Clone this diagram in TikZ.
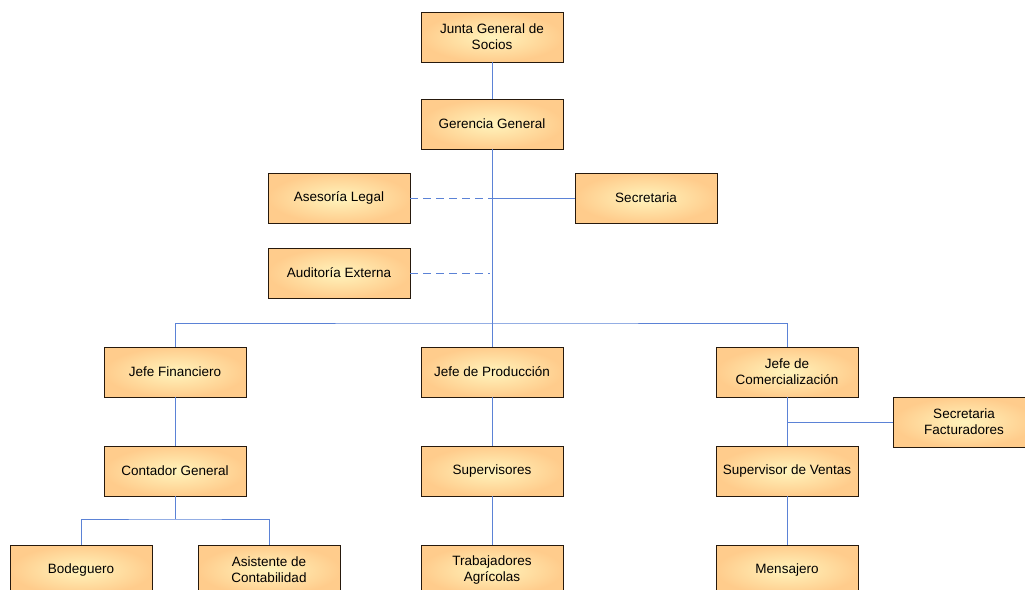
\documentclass[tikz,border=0pt]{standalone}
\usepackage{fontspec}
\setmainfont{Liberation Sans}
\begin{document}
\begin{tikzpicture}[x=1pt,y=-1pt,
  orgbox/.style={draw=black!80!brown, line width=0.9pt, minimum width=142pt, minimum height=50pt,
    inner sep=2pt, align=center, font=\fontsize{13.5}{16}\selectfont,
    shading=radial, inner color=boxin, outer color=boxout},
  link/.style={draw=linkblue, line width=1pt},
  dlink/.style={link, dash pattern=on 8pt off 5pt}]
\definecolor{boxin}{HTML}{FFF4BC}
\definecolor{boxout}{HTML}{FFCC8C}
\definecolor{linkblue}{HTML}{5B82D6}
\useasboundingbox (0,0) rectangle (1025,589);
\clip (0,0) rectangle (1025,589);
% nodes
\node[orgbox] (junta) at (492,37) {Junta General de\\Socios};
\node[orgbox] (ger) at (492,124) {Gerencia General};
\node[orgbox] (ase) at (339,198) {Asesoría Legal};
\node[orgbox] (sec) at (646,198) {Secretaria};
\node[orgbox] (aud) at (339,273) {Auditoría Externa};
\node[orgbox] (fin) at (175,372) {Jefe Financiero};
\node[orgbox] (prod) at (492,372) {Jefe de Producción};
\node[orgbox] (com) at (787,372) {Jefe de\\Comercialización};
\node[orgbox] (secf) at (964,422) {Secretaria\\Facturadores};
\node[orgbox] (cont) at (175,471) {Contador General};
\node[orgbox] (sup) at (492,471) {Supervisores};
\node[orgbox] (supv) at (787,471) {Supervisor de Ventas};
\node[orgbox] (bod) at (81,570) {Bodeguero};
\node[orgbox] (asis) at (269,570) {Asistente de\\Contabilidad};
\node[orgbox] (trab) at (492,570) {Trabajadores\\Agrícolas};
\node[orgbox] (mens) at (787,570) {Mensajero};
% helper coordinates
\coordinate (bus) at (492,323);
\coordinate (audend) at (490,273);
\coordinate (cbus) at (175,519);
% connectors
\draw[link] (junta.south) -- (ger.north);
\draw[link] (ger.south) -- (prod.north);
\draw[dlink] (ase.east) -- (ger.south |- ase.east);
\draw[link] (sec.west) -- (ger.south |- sec.west);
\draw[dlink] (aud.east) -- (audend);
\draw[link] (fin.north) |- (bus) -| (com.north);
\draw[link] (fin.south) -- (cont.north);
\draw[link] (cont.south) -- (cbus);
\draw[link] (bod.north) |- (cbus) -| (asis.north);
\draw[link] (prod.south) -- (sup.north);
\draw[link] (sup.south) -- (trab.north);
\draw[link] (com.south) -- (supv.north);
\draw[link] (secf.west) -- (com.south |- secf.west);
\draw[link] (supv.south) -- (mens.north);
\end{tikzpicture}
\end{document}
